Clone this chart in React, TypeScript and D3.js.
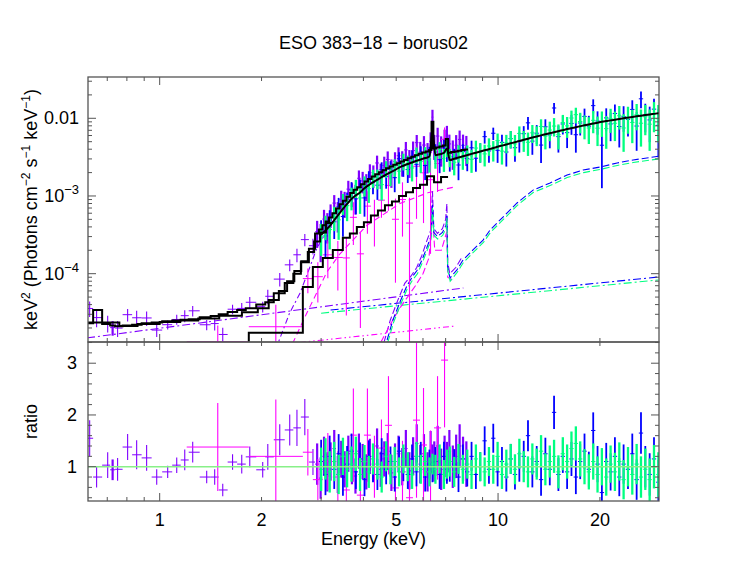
import React, { useRef, useEffect } from 'react';
import * as d3 from 'd3';

// fluxes are keV^2 (photons cm^-2 s^-1 keV^-1), stored in units of 1e-3

// purple spectrum: bin centres (keV), folded model, data/model ratio, ratio error
const pnEnergy = [
  0.621, 0.651, 0.702, 0.726, 0.751, 0.804, 0.855, 0.915, 0.980, 1.056,
  1.123, 1.186, 1.252, 1.377, 1.454, 1.536, 1.642, 1.748, 1.846, 2.016,
  2.087, 2.264, 2.423, 2.545, 2.685, 2.838, 2.92, 2.99, 3.06, 3.13,
  3.20, 3.28, 3.36, 3.44, 3.52, 3.61, 3.70, 3.79, 3.88, 3.98,
  4.08, 4.18, 4.28, 4.39, 4.50, 4.61, 4.72, 4.84, 4.96, 5.08,
  5.21, 5.34, 5.47, 5.61, 5.75, 5.89, 6.04, 6.19, 6.32, 6.40,
  6.48, 6.63, 6.79, 6.95, 7.06, 7.18, 7.35, 7.52, 7.70, 7.88,
  8.06,
];
const pnModel = [
  0.023, 0.034, 0.0225, 0.0215, 0.021, 0.0215, 0.022, 0.023, 0.0235, 0.0245,
  0.025, 0.0255, 0.026, 0.0275, 0.0285, 0.030, 0.032, 0.034, 0.036, 0.040,
  0.043, 0.056, 0.076, 0.100, 0.140, 0.210, 0.33, 0.37, 0.42, 0.47,
  0.53, 0.60, 0.69, 0.78, 0.87, 0.98, 1.09, 1.20, 1.30, 1.42,
  1.54, 1.66, 1.78, 1.90, 2.02, 2.15, 2.27, 2.40, 2.52, 2.64,
  2.77, 2.90, 3.05, 3.20, 3.35, 3.50, 3.62, 3.75, 3.90, 9.00,
  4.10, 4.22, 4.34, 4.46, 5.40, 3.60, 3.68, 3.75, 3.82, 3.90,
  3.98,
];
const pnRatio = [
  1.55, 0.80, 1.03, 0.94, 0.95, 1.38, 1.23, 1.17, 0.80, 0.90,
  1.03, 1.13, 1.28, 0.80, 0.80, 0.55, 1.09, 1.05, 1.19, 0.94,
  1.19, 1.52, 1.71, 1.75, 1.96, 1.09, 1.05, 0.78, 1.20, 0.90,
  1.10, 1.35, 0.85, 1.15, 0.95, 1.25, 1.00, 0.82, 1.30, 1.10,
  0.90, 1.20, 1.05, 1.40, 0.95, 1.15, 1.30, 0.88, 1.10, 1.25,
  1.00, 1.35, 0.92, 1.20, 1.45, 1.05, 1.25, 0.90, 1.30, 1.15,
  1.10, 1.40, 0.95, 1.20, 1.10, 1.30, 1.00, 1.20, 1.40, 1.15,
  1.05,
];
const pnErr = [
  0.35, 0.20, 0.25, 0.20, 0.22, 0.25, 0.28, 0.25, 0.15, 0.12,
  0.15, 0.20, 0.20, 0.12, 0.15, 0.12, 0.15, 0.18, 0.20, 0.15,
  0.25, 0.30, 0.30, 0.35, 0.35, 0.25, 0.40, 0.40, 0.38, 0.38,
  0.37, 0.36, 0.36, 0.35, 0.35, 0.35, 0.34, 0.34, 0.34, 0.34,
  0.34, 0.34, 0.34, 0.34, 0.34, 0.34, 0.35, 0.35, 0.35, 0.35,
  0.36, 0.36, 0.36, 0.37, 0.37, 0.37, 0.38, 0.38, 0.39, 0.28,
  0.39, 0.39, 0.40, 0.40, 0.38, 0.41, 0.41, 0.42, 0.42, 0.43,
  0.44,
];

// second black staircase under the purple data: [lo keV, hi keV, model]
const pnModelAlt = [
  [0.606, 0.76, 0.0235], [0.76, 0.86, 0.0212], [0.86, 1.0, 0.0225], [1.0, 1.15, 0.0238],
  [1.15, 1.3, 0.025], [1.3, 1.5, 0.0265], [1.5, 1.75, 0.0288], [1.75, 1.95, 0.0318],
  [1.95, 2.1, 0.036], [2.1, 2.25, 0.046], [2.25, 2.38, 0.060], [2.38, 2.5, 0.080],
  [2.5, 2.62, 0.108], [2.62, 2.74, 0.145], [2.74, 2.86, 0.19], [2.86, 2.98, 0.26],
  [2.98, 3.1, 0.34], [3.1, 3.25, 0.45],
];

// magenta spectrum: bin edges (keV), model, ratio, error
const mosEdges = [
  1.202, 1.834, 2.649, 2.836, 3.035, 3.249, 3.478, 3.648, 3.826, 4.014, 4.210,
  4.416, 4.632, 4.858, 5.096, 5.345, 5.606, 5.880, 6.167, 6.469, 6.785, 7.116,
];
const mosModel = [
  0.00965, 0.0173, 0.0675, 0.122, 0.159, 0.202, 0.29, 0.33, 0.40, 0.46,
  0.56, 0.65, 0.76, 0.85, 1.00, 1.12, 1.27, 1.40, 1.80, 1.50, 1.75,
];
const mosRatio = [
  1.38, 1.20, 1.28, 0.75, 1.10, 0.80, 0.55, 1.61, 0.45, 1.61,
  1.00, 1.36, 1.80, 0.59, 0.90, 0.40, 1.90, 1.42, 0.90, 1.75, 3.06,
];
const mosErr = [
  0.85, 1.10, 0.45, 0.40, 0.55, 0.50, 0.45, 0.90, 0.40, 0.90,
  0.60, 0.55, 0.95, 0.50, 0.60, 0.45, 1.50, 1.10, 0.80, 1.00, 1.30,
];

// NuSTAR FPMA (blue) / FPMB (green): shared bin centres and model
const nuEnergy = [
  3.00, 3.09, 3.18, 3.28, 3.38, 3.48, 3.58, 3.69, 3.80, 3.91,
  4.03, 4.15, 4.27, 4.40, 4.53, 4.67, 4.81, 4.95, 5.10, 5.25,
  5.41, 5.57, 5.74, 5.91, 6.09, 6.27, 6.40, 6.53, 6.72, 6.92,
  7.06, 7.20, 7.42, 7.64, 7.87, 8.11, 8.35, 8.60, 8.86, 9.13,
  9.40, 9.68, 9.97, 10.27, 10.58, 10.90, 11.22, 11.56, 11.91, 12.26,
  12.63, 13.01, 13.40, 13.80, 14.22, 14.64, 15.08, 15.54, 16.00, 16.48,
  16.98, 17.49, 18.01, 18.55, 19.11, 19.68, 20.27, 20.88, 21.51, 22.15,
  22.82, 23.50, 24.21, 24.93, 25.68, 26.45, 27.24, 28.06, 28.90, 29.77,
];
const nuModel = [
  0.32, 0.36, 0.41, 0.49, 0.58, 0.68, 0.79, 0.92, 1.02, 1.11,
  1.26, 1.38, 1.50, 1.62, 1.75, 1.88, 2.02, 2.15, 2.32, 2.45,
  2.58, 2.70, 2.84, 2.95, 3.08, 3.22, 7.00, 3.35, 3.45, 3.58,
  4.10, 2.90, 3.02, 3.13, 3.24, 3.36, 3.48, 3.60, 3.73, 3.87,
  4.00, 4.14, 4.30, 4.45, 4.60, 4.76, 4.92, 5.10, 5.28, 5.46,
  5.65, 5.84, 6.03, 6.22, 6.42, 6.62, 6.83, 7.04, 7.26, 7.47,
  7.68, 7.90, 8.12, 8.34, 8.56, 8.78, 9.00, 9.20, 9.40, 9.60,
  9.80, 10.0, 10.2, 10.4, 10.6, 10.8, 11.0, 11.2, 11.4, 11.6,
];
const fpmaRatio = [
  1.10, 0.85, 1.20, 0.95, 1.25, 0.80, 1.05, 1.30, 0.90, 1.15,
  0.75, 1.20, 1.00, 0.85, 1.25, 0.95, 1.10, 0.80, 1.30, 1.00,
  0.85, 1.15, 0.90, 1.20, 0.80, 1.05, 0.90, 1.10, 0.85, 1.20,
  0.95, 1.00, 1.05, 0.80, 1.15, 0.90, 1.20, 0.85, 1.00, 1.50,
  0.95, 1.55, 0.90, 1.10, 0.80, 1.15, 0.85, 1.00, 1.20, 1.60,
  0.90, 1.10, 0.75, 1.25, 0.95, 2.05, 0.85, 1.20, 0.90, 1.15,
  0.80, 1.10, 1.30, 0.95, 1.70, 1.05, 0.50, 1.10, 0.90, 1.20,
  0.80, 1.05, 0.95, 1.25, 0.75, 1.65, 1.00, 0.85, 1.15, 0.70,
];
const fpmbRatio = [
  0.95, 1.15, 0.90, 1.10, 0.85, 1.20, 0.95, 1.05, 1.25, 0.85,
  1.10, 0.90, 1.15, 1.05, 0.80, 1.20, 0.95, 1.10, 0.90, 1.15,
  1.00, 0.85, 1.20, 0.95, 1.10, 0.90, 1.05, 0.95, 1.15, 0.85,
  1.05, 1.10, 0.90, 1.15, 0.95, 1.05, 0.85, 1.15, 1.00, 0.90,
  1.10, 0.95, 1.20, 0.85, 1.05, 1.15, 0.95, 1.25, 1.00, 0.90,
  1.15, 1.05, 1.30, 0.95, 1.10, 1.20, 0.90, 1.25, 1.10, 1.35,
  1.45, 1.15, 1.00, 0.90, 1.10, 0.85, 1.00, 0.80, 1.05, 0.90,
  1.10, 0.75, 1.00, 0.85, 1.05, 0.80, 0.95, 0.75, 1.00, 0.85,
];
const nuErr = [
  0.42, 0.40, 0.40, 0.38, 0.38, 0.36, 0.35, 0.34, 0.33, 0.32,
  0.32, 0.31, 0.30, 0.30, 0.30, 0.29, 0.29, 0.28, 0.28, 0.28,
  0.28, 0.28, 0.28, 0.28, 0.28, 0.28, 0.20, 0.28, 0.28, 0.28,
  0.28, 0.29, 0.29, 0.29, 0.28, 0.28, 0.28, 0.28, 0.28, 0.28,
  0.28, 0.28, 0.28, 0.28, 0.28, 0.29, 0.29, 0.29, 0.30, 0.30,
  0.30, 0.30, 0.31, 0.31, 0.31, 0.32, 0.32, 0.32, 0.33, 0.33,
  0.33, 0.34, 0.34, 0.34, 0.35, 0.35, 0.36, 0.36, 0.36, 0.37,
  0.37, 0.38, 0.38, 0.39, 0.39, 0.40, 0.40, 0.41, 0.42, 0.43,
];

// model components: [keV, flux]
const pnScatter = [[0.61, 0.0149], [7.9, 0.0655]];
const fpmaScatter = [[3.2, 0.0341], [29.8, 0.0906]];
const fpmbScatter = [[3.0, 0.031], [29.8, 0.083]];
const mosScatter = [[1.8, 0.011], [7.4, 0.0211]];
const pnTrans = [
  [2.2, 0.0105], [2.42, 0.031], [2.6, 0.0565], [2.78, 0.122], [2.91, 0.21], [3.05, 0.30],
];
const mosTrans = [
  [2.47, 0.0126], [2.72, 0.031], [2.91, 0.0565], [3.12, 0.105], [3.41, 0.18],
  [4.1, 0.42], [5.13, 0.8], [6.2, 1.1], [7.4, 1.3],
];
const fpmaRefl = [
  [4.70, 0.014], [4.89, 0.0253], [5.13, 0.0432], [5.38, 0.07], [5.57, 0.09], [5.76, 0.11],
  [5.96, 0.15], [6.17, 0.22], [6.33, 0.30], [6.40, 0.77], [6.46, 0.34], [6.62, 0.30],
  [6.85, 0.34], [7.02, 0.42], [7.06, 0.56], [7.10, 0.12], [7.21, 0.088], [7.56, 0.112],
  [7.88, 0.150], [8.43, 0.202], [9.03, 0.271], [9.47, 0.365], [10.14, 0.491], [11.38, 0.813],
  [12.69, 1.19], [14.25, 1.47], [16.0, 1.86], [17.84, 2.16], [20.04, 2.36], [22.49, 2.66],
  [25.08, 2.91], [29.8, 3.25],
];
const fpmbRefl = [
  [4.72, 0.013], [4.91, 0.0235], [5.15, 0.040], [5.40, 0.065], [5.59, 0.083], [5.78, 0.10],
  [5.98, 0.14], [6.19, 0.205], [6.34, 0.28], [6.40, 0.70], [6.47, 0.31], [6.63, 0.28],
  [6.86, 0.31], [7.03, 0.39], [7.06, 0.52], [7.10, 0.11], [7.22, 0.080], [7.57, 0.104],
  [7.90, 0.139], [8.45, 0.188], [9.05, 0.252], [9.5, 0.34], [10.16, 0.457], [11.4, 0.756],
  [12.7, 1.11], [14.3, 1.37], [16.0, 1.73], [17.9, 2.0], [20.1, 2.2], [22.5, 2.47],
  [25.1, 2.7], [29.8, 3.0],
];
const pnRefl = [
  [4.6, 0.013], [4.8, 0.025], [5.05, 0.045], [5.3, 0.075], [5.55, 0.095], [5.75, 0.12],
  [5.95, 0.17], [6.15, 0.26], [6.32, 0.36], [6.40, 1.15], [6.46, 0.38], [6.62, 0.33],
  [6.85, 0.38], [7.0, 0.5], [7.06, 0.8], [7.10, 0.14], [7.2, 0.10], [7.5, 0.12], [7.8, 0.16],
];
const mosRefl = [
  [4.5, 0.013], [4.8, 0.022], [5.1, 0.035], [5.4, 0.05], [5.7, 0.07], [6.0, 0.1],
  [6.25, 0.16], [6.40, 0.6], [6.5, 0.2], [6.8, 0.2], [7.06, 0.35], [7.1, 0.09], [7.4, 0.08],
];

// axes
const xTickLabels = [1, 2, 5, 10, 20];
const xMajor = [1, 10];
const yTopLabels = [
  { v: 1e-2, base: '0.01', exp: '' },
  { v: 1e-3, base: '10', exp: '\u22123' },
  { v: 1e-4, base: '10', exp: '\u22124' },
];
const yTopMajor = [1e-4, 1e-3, 1e-2];
const yRatioLabels = [1, 2, 3];

const COLORS = {
  pn: '#8000ff',
  mos: '#ff00ff',
  fpma: '#0000ff',
  fpmb: '#00ff80',
  unity: '#88f088',
  model: '#000000',
  axis: '#555555',
};

const W = 747, H = 578;
const L = 88, R = 659, T = 77, M = 342, B = 501;
const FONT = '"Liberation Sans", Arial, Helvetica, sans-serif';

type Bin = { lo: number; hi: number; e: number; m: number; r: number; err: number };

const centresToBins = (centres: number[], model: number[], ratio: number[], err: number[]): Bin[] => {
  const n = Math.min(centres.length, model.length, ratio.length, err.length);
  const c = centres.slice(0, n);
  return c.map((e, i) => {
    const lo = i > 0 ? Math.sqrt(c[i - 1] * e) : (e * e) / Math.sqrt(e * c[i + 1]);
    const hi = i < n - 1 ? Math.sqrt(e * c[i + 1]) : (e * e) / Math.sqrt(c[i - 1] * e);
    return { lo, hi, e, m: model[i] * 1e-3, r: ratio[i], err: err[i] };
  });
};

const edgesToBins = (edges: number[], model: number[], ratio: number[], err: number[]): Bin[] => {
  const n = Math.min(edges.length - 1, model.length, ratio.length, err.length);
  return d3.range(n).map(i => ({
    lo: edges[i], hi: edges[i + 1], e: Math.sqrt(edges[i] * edges[i + 1]),
    m: model[i] * 1e-3, r: ratio[i], err: err[i],
  }));
};

const SpectrumPlot = () => {
  const svgRef = useRef<SVGSVGElement>(null);

  useEffect(() => {
    if (!svgRef.current) return;
    const svg = d3.select(svgRef.current);
    svg.selectAll('*').remove();

    const x = d3.scaleLog().domain([0.614, 29.9]).range([L, R]);
    const yF = d3.scaleLog().domain([1.32e-5, 0.034]).range([M, T]);
    const yR = d3.scaleLinear().domain([0.337, 3.41]).range([B, M]);
    const pos = (v: number) => Math.max(v, 1e-9);

    const pnBins = centresToBins(pnEnergy, pnModel, pnRatio, pnErr);
    const mosBins = edgesToBins(mosEdges, mosModel, mosRatio, mosErr);
    const fpmaBins = centresToBins(nuEnergy, nuModel, fpmaRatio, nuErr);
    const fpmbBins = centresToBins(nuEnergy, nuModel, fpmbRatio, nuErr);

    const defs = svg.append('defs');
    defs.append('clipPath').attr('id', 'clip-top').append('rect')
      .attr('x', L).attr('y', T).attr('width', R - L).attr('height', M - T);
    defs.append('clipPath').attr('id', 'clip-bot').append('rect')
      .attr('x', L).attr('y', M).attr('width', R - L).attr('height', B - M);

    const top = svg.append('g').attr('clip-path', 'url(#clip-top)');
    const bot = svg.append('g').attr('clip-path', 'url(#clip-bot)');

    // flux in 1e-3 units
    const lineMilli = d3.line<number[]>().x(d => x(d[0])).y(d => yF(pos(d[1] * 1e-3)));
    // flux in absolute units
    const lineAbs = d3.line<number[]>().x(d => x(d[0])).y(d => yF(pos(d[1])));

    // model components (under the data)
    const components: [number[][], string, string][] = [
      [pnScatter, COLORS.pn, '8,3,2,3'],
      [mosScatter, COLORS.mos, '6,3,1.5,3,1.5,3'],
      [fpmaScatter, COLORS.fpma, '8,3,2,3'],
      [fpmbScatter, COLORS.fpmb, '8,3,2,3'],
      [pnTrans, COLORS.pn, '6,3,2,3'],
      [mosTrans, COLORS.mos, '6,4'],
      [pnRefl, COLORS.pn, '7,3'],
      [mosRefl, COLORS.mos, '7,3'],
      [fpmaRefl, COLORS.fpma, '7,3'],
      [fpmbRefl, COLORS.fpmb, '7,3'],
    ];
    components.forEach(([pts, color, dash]) => {
      top.append('path')
        .attr('d', lineMilli(pts))
        .attr('fill', 'none')
        .attr('stroke', color)
        .attr('stroke-width', 1.1)
        .attr('stroke-dasharray', dash);
    });

    // data crosses; narrow (densely packed) bins get a heavier error bar
    const drawCrosses = (g: any, bins: Bin[], color: string, ratioPanel: boolean, vw: number) => {
      const val = (b: Bin, r: number) => (ratioPanel ? yR(r) : yF(pos(b.m * r)));
      const grp = g.append('g').attr('stroke', color);
      grp.selectAll('line.h').data(bins).join('line').attr('class', 'h')
        .attr('stroke-width', 1)
        .attr('x1', (b: Bin) => x(b.lo)).attr('x2', (b: Bin) => x(b.hi))
        .attr('y1', (b: Bin) => val(b, b.r)).attr('y2', (b: Bin) => val(b, b.r));
      grp.selectAll('line.v').data(bins).join('line').attr('class', 'v')
        .attr('stroke-width', (b: Bin) => (x(b.hi) - x(b.lo) < 6 ? vw : 1.1))
        .attr('x1', (b: Bin) => x(b.e)).attr('x2', (b: Bin) => x(b.e))
        .attr('y1', (b: Bin) => val(b, b.r - b.err)).attr('y2', (b: Bin) => val(b, b.r + b.err));
    };

    const sets: [Bin[], string, number][] = [
      [pnBins, COLORS.pn, 2.2],
      [mosBins, COLORS.mos, 1.1],
      [fpmaBins, COLORS.fpma, 1.8],
      [fpmbBins, COLORS.fpmb, 2.3],
    ];
    sets.forEach(([bins, color, vw]) => drawCrosses(top, bins, color, false, vw));
    sets.forEach(([bins, color, vw]) => drawCrosses(bot, bins, color, true, vw));

    // black folded models
    const steps = (bins: Bin[]) => bins.flatMap(b => [[b.lo, b.m], [b.hi, b.m]]);
    const modelPath = (d: string | null) =>
      top.append('path').attr('d', d).attr('fill', 'none')
        .attr('stroke', COLORS.model).attr('stroke-width', 2).attr('stroke-linejoin', 'miter');

    modelPath(lineMilli(pnModelAlt.flatMap(([lo, hi, m]) => [[lo, m], [hi, m]])));
    modelPath(lineAbs(steps(pnBins)));
    modelPath(lineAbs([[mosBins[1].lo, 1e-9], ...steps(mosBins.slice(1))]));
    const nuPts = [
      [fpmaBins[0].lo, fpmaBins[0].m],
      ...fpmaBins.map(b => [b.e, b.m]),
      [fpmaBins[fpmaBins.length - 1].hi, fpmaBins[fpmaBins.length - 1].m],
    ];
    modelPath(lineAbs.curve(d3.curveMonotoneX)(nuPts));

    // unity line in ratio panel
    bot.append('line')
      .attr('x1', L).attr('x2', R).attr('y1', yR(1)).attr('y2', yR(1))
      .attr('stroke', COLORS.unity).attr('stroke-width', 1.5);

    // frames and ticks
    const axis = svg.append('g').attr('stroke', COLORS.axis).attr('fill', 'none');
    axis.append('rect').attr('x', L).attr('y', T).attr('width', R - L).attr('height', M - T).attr('stroke-width', 1.3);
    axis.append('rect').attr('x', L).attr('y', M).attr('width', R - L).attr('height', B - M).attr('stroke-width', 1.3);

    const tick = (x1: number, y1: number, x2: number, y2: number) =>
      axis.append('line').attr('x1', x1).attr('y1', y1).attr('x2', x2).attr('y2', y2).attr('stroke-width', 1);

    const [xd0, xd1] = x.domain();
    const xTicks: number[] = [];
    [0.1, 1, 10].forEach(dec => d3.range(1, 10).forEach(k => {
      const v = k * dec;
      if (v >= xd0 && v <= xd1) xTicks.push(v);
    }));
    xTicks.forEach(v => {
      const len = xMajor.some(m => Math.abs(m - v) < 1e-9) ? 8 : 4;
      const px = x(v);
      tick(px, T, px, T + len);
      tick(px, M, px, M - len);
      tick(px, M, px, M + len);
      tick(px, B, px, B - len);
    });

    const [yd0, yd1] = yF.domain();
    const yTicks: number[] = [];
    [1e-5, 1e-4, 1e-3, 1e-2].forEach(dec => d3.range(1, 10).forEach(k => {
      const v = k * dec;
      if (v >= yd0 && v <= yd1) yTicks.push(v);
    }));
    yTicks.forEach(v => {
      const len = yTopMajor.some(m => Math.abs(m - v) / m < 1e-6) ? 8 : 4;
      const py = yF(v);
      tick(L, py, L + len, py);
      tick(R, py, R - len, py);
    });

    d3.range(4, 35, 2).map(k => k / 10).forEach(v => {
      const len = yRatioLabels.includes(v) ? 8 : 4;
      const py = yR(v);
      tick(L, py, L + len, py);
      tick(R, py, R - len, py);
    });

    // text
    const text = svg.append('g').attr('font-family', FONT).attr('fill', '#000').attr('font-size', 18);

    text.append('text').attr('x', (L + R) / 2).attr('y', 49).attr('text-anchor', 'middle')
      .text('ESO 383\u221218 \u2212 borus02');
    text.append('text').attr('x', (L + R) / 2).attr('y', 545).attr('text-anchor', 'middle')
      .text('Energy (keV)');

    xTickLabels.forEach(v => {
      text.append('text').attr('x', x(v)).attr('y', 526).attr('text-anchor', 'middle').text(String(v));
    });

    yTopLabels.forEach(({ v, base, exp }) => {
      const t = text.append('text').attr('x', 79).attr('y', yF(v) + 6).attr('text-anchor', 'end');
      t.append('tspan').text(base);
      if (exp) t.append('tspan').attr('dy', -8).attr('font-size', 13).text(exp);
    });

    yRatioLabels.forEach(v => {
      text.append('text').attr('x', 77).attr('y', yR(v) + 6).attr('text-anchor', 'end').text(String(v));
    });

    const yLab = text.append('text')
      .attr('transform', `translate(37,${(T + M) / 2}) rotate(-90)`)
      .attr('text-anchor', 'middle');
    const parts: [string, boolean][] = [
      ['keV', false], ['2', true], [' (Photons cm', false], ['\u22122', true],
      [' s', false], ['\u22121', true], [' keV', false], ['\u22121', true], [')', false],
    ];
    parts.forEach(([s, sup], i) => {
      const t = yLab.append('tspan').text(s);
      if (sup) t.attr('dy', -7).attr('font-size', 12);
      else if (i > 0) t.attr('dy', 7);
    });

    text.append('text')
      .attr('transform', `translate(37,${(M + B) / 2}) rotate(-90)`)
      .attr('text-anchor', 'middle')
      .text('ratio');
  }, []);

  return (
    <svg
      ref={svgRef}
      width={W}
      height={H}
      style={{ position: 'absolute', left: 0, top: 0, background: '#fff' }}
    />
  );
};

export default function App() {
  return <SpectrumPlot />;
}
